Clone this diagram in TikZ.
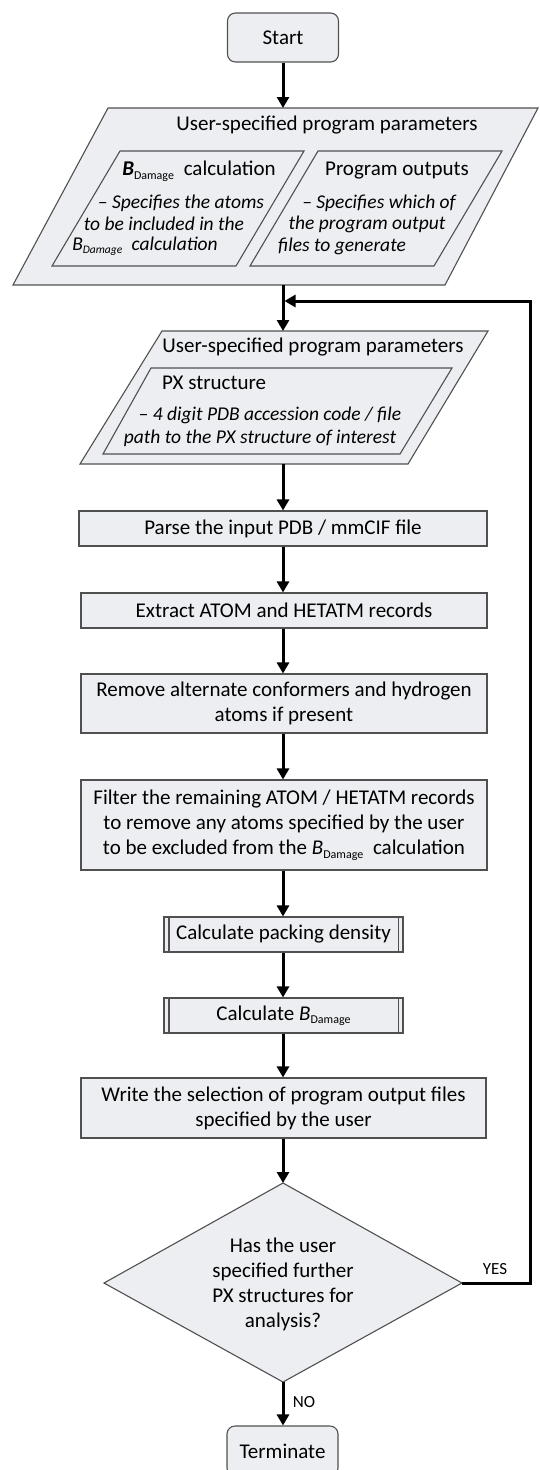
\documentclass[tikz,border=0pt]{standalone}
\usepackage{fontspec}
\setmainfont{Carlito}
\usetikzlibrary{arrows.meta}
\definecolor{boxfill}{RGB}{237,238,241}
\definecolor{boxline}{RGB}{80,80,80}
\newcommand{\BDup}{\textit{B}\raisebox{-0.35ex}{\fontsize{12}{12}\selectfont\upshape Damage}}
\newcommand{\BDbf}{\textbf{\textit{B}}\raisebox{-0.35ex}{\fontsize{12}{12}\selectfont\upshape Damage}}
\newcommand{\BDit}{\textit{B}\raisebox{-0.35ex}{\fontsize{11.5}{11.5}\selectfont\itshape Damage}}
\begin{document}
\begin{tikzpicture}[x=1pt,y=-1pt,
  box/.style={draw=boxline,fill=boxfill,line width=1.1pt,inner sep=0pt,align=center,font=\fontsize{21}{25}\selectfont},
  shp/.style={draw=boxline,fill=boxfill,line width=1.1pt,line join=miter},
  arr/.style={line width=3pt,line join=miter,-{Triangle[width=12pt,length=11pt]}},
  txt/.style={font=\fontsize{21}{25}\selectfont,inner sep=0pt,align=center},
  itx/.style={font=\fontsize{19.5}{22}\selectfont\itshape,inner sep=0pt},
  lbl/.style={font=\fontsize{17}{18}\selectfont,inner sep=0pt}]
\useasboundingbox (0,0) rectangle (540,1470);

% Start
\node[box,rounded corners=8pt,minimum width=111pt,minimum height=49pt] (start) at (283,37.5) {Start};

% Parameters block 1
\coordinate (p1a) at (108,108);
\coordinate (p1b) at (538,108);
\coordinate (p1c) at (445,285);
\coordinate (p1d) at (13,285);
\coordinate (p1top) at (283,108);
\coordinate (p1bot) at (283,285);
\draw[shp] (p1a) -- (p1b) -- (p1c) -- (p1d) -- cycle;
\node[txt] (p1title) at (327,125) {User-specified program parameters};
\draw[shp] (120,151) -- (304,151) -- (236,266) -- (52,266) -- cycle;
\draw[shp] (318,151) -- (502,151) -- (434,266) -- (250,266) -- cycle;
\node[txt] (bdcalc) at (199,171) {\BDbf\hspace{5pt} calculation};
\node[itx] (bda1) at (181,203) {– Specifies the atoms};
\node[itx] (bda2) at (164,224) {to be included in the};
\node[itx] (bda3) at (145,246) {\BDit\hspace{5pt} calculation};
\node[txt] (pout) at (397,171) {Program outputs};
\node[itx] (pout1) at (379,203) {– Specifies which of};
\node[itx] (pout2) at (367,224) {the program output};
\node[itx] (pout3) at (342,246) {files to generate};

% Parameters block 2
\coordinate (p2a) at (162,331);
\coordinate (p2b) at (488,331);
\coordinate (p2c) at (408,464);
\coordinate (p2d) at (80,464);
\coordinate (p2top) at (283,331);
\coordinate (p2bot) at (283,464);
\draw[shp] (p2a) -- (p2b) -- (p2c) -- (p2d) -- cycle;
\node[txt] (p2title) at (313,347) {User-specified program parameters};
\draw[shp] (151,368) -- (452,368) -- (400,454) -- (103,454) -- cycle;
\node[txt,anchor=west] (px) at (162,383) {PX structure};
\node[itx] (px1) at (270,415) {– 4 digit PDB accession code / file};
\node[itx] (px2) at (260,438) {path to the PX structure of interest};

% Process boxes
\node[box,minimum width=408pt,minimum height=35pt] (parse) at (283,528.5) {Parse the input PDB / mmCIF file};
\node[box,minimum width=406pt,minimum height=35pt] (extract) at (284,610.5) {Extract ATOM and HETATM records};
\node[box,minimum width=406pt,minimum height=59pt] (remove) at (284,703.5) {Remove alternate conformers and hydrogen\\atoms if present};
\node[box,minimum width=406pt,minimum height=90pt] (filter) at (284,825) {Filter the remaining ATOM / HETATM records\\to remove any atoms specified by the user\\to be excluded from the \BDup\hspace{5pt} calculation};
\node[box,minimum width=239pt,minimum height=35pt] (pack) at (283.5,934.5) {Calculate packing density};
\draw[boxline,line width=1.1pt] ([xshift=5.5pt]pack.north west) -- ([xshift=5.5pt]pack.south west);
\draw[boxline,line width=1.1pt] ([xshift=-5.5pt]pack.north east) -- ([xshift=-5.5pt]pack.south east);
\node[box,minimum width=239pt,minimum height=35pt] (calcb) at (283.5,1015.5) {Calculate \BDup};
\draw[boxline,line width=1.1pt] ([xshift=5.5pt]calcb.north west) -- ([xshift=5.5pt]calcb.south west);
\draw[boxline,line width=1.1pt] ([xshift=-5.5pt]calcb.north east) -- ([xshift=-5.5pt]calcb.south east);
\node[box,minimum width=405pt,minimum height=60pt] (write) at (283.5,1108) {Write the selection of program output files\\specified by the user};

% Decision
\coordinate (dtop) at (283,1183);
\coordinate (dright) at (462,1283);
\coordinate (dbot) at (283,1382);
\coordinate (dleft) at (104,1283);
\draw[shp] (dtop) -- (dright) -- (dbot) -- (dleft) -- cycle;
\node[txt] (dq) at (283,1284) {Has the user\\specified further\\PX structures for\\analysis?};

% Terminate
\node[box,rounded corners=8pt,minimum width=111pt,minimum height=50pt] (term) at (282.5,1451) {Terminate};

% Connectors
\draw[arr] (start.south) -- (p1top);
\draw[arr] (p1bot) -- (p2top);
\draw[arr] (p2bot) -- (parse.north -| p2bot);
\draw[arr] (parse.south -| p2bot) -- (extract.north -| p2bot);
\draw[arr] (extract.south -| p2bot) -- (remove.north -| p2bot);
\draw[arr] (remove.south -| p2bot) -- (filter.north -| p2bot);
\draw[arr] (filter.south -| p2bot) -- (pack.north -| p2bot);
\draw[arr] (pack.south -| p2bot) -- (calcb.north -| p2bot);
\draw[arr] (calcb.south -| p2bot) -- (write.north -| p2bot);
\draw[arr] (write.south -| p2bot) -- (dtop);
\draw[arr] (dbot) -- (term.north -| dbot);
\coordinate (fbA) at (530,1283);
\coordinate (fbB) at (530,301);
\coordinate (fbEnd) at (284.5,301);
\draw[arr] (dright) -- (fbA) -- (fbB) -- (fbEnd);
\node[lbl] (yes) at (495,1269) {YES};
\node[lbl] (no) at (304,1402) {NO};
\end{tikzpicture}
\end{document}
